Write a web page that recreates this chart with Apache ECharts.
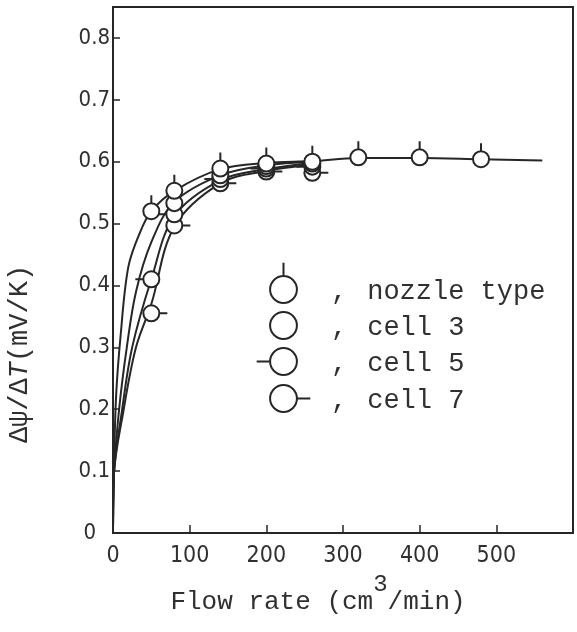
<!DOCTYPE html>
<html>
<head>
<meta charset="utf-8">
<script src="https://cdn.jsdelivr.net/npm/echarts@6/dist/echarts.min.js"></script>
<style>
html, body { margin: 0; padding: 0; background: #fff; }
#main { width: 577px; height: 632px; }
</style>
</head>
<body>
<div id="main"></div>
<script>
// data
var seriesNames = ["nozzle type", "cell 3", "cell 5", "cell 7"];
var xTicks = [0, 100, 200, 300, 400, 500];
var yTicks = [0, 0.1, 0.2, 0.3, 0.4, 0.5, 0.6, 0.7, 0.8];

// measured points (flow rate, d psi / dT)
var nozzleX = [50, 80, 140, 200, 260, 320, 400, 480];
var nozzleY = [0.520, 0.553, 0.589, 0.597, 0.600, 0.607, 0.607, 0.604];
var cell3X = [80, 140, 200, 260];
var cell3Y = [0.533, 0.578, 0.593, 0.597];
var cell5X = [50, 80, 140, 200, 260];
var cell5Y = [0.410, 0.515, 0.572, 0.589, 0.592];
var cell7X = [50, 80, 140, 200, 260];
var cell7Y = [0.355, 0.497, 0.565, 0.584, 0.582];

// hand drawn fitted curves
var nozzleCurveX = [0, 1, 4, 10, 20, 35, 50, 80, 140, 200, 260, 320, 400, 480, 560];
var nozzleCurveY = [0, 0.09, 0.22, 0.32, 0.43, 0.485, 0.52, 0.553, 0.588, 0.598, 0.601, 0.606, 0.606, 0.604, 0.602];
var cell3CurveX = [0, 1, 8, 18, 30, 50, 80, 140, 200, 260];
var cell3CurveY = [0, 0.09, 0.2, 0.3, 0.39, 0.47, 0.535, 0.578, 0.594, 0.600];
var cell5CurveX = [0, 1, 12, 25, 50, 80, 140, 200, 260];
var cell5CurveY = [0, 0.09, 0.2, 0.3, 0.41, 0.512, 0.570, 0.588, 0.598];
var cell7CurveX = [0, 1, 14, 30, 50, 80, 140, 200, 260];
var cell7CurveY = [0, 0.09, 0.2, 0.3, 0.37, 0.495, 0.565, 0.585, 0.595];

var ink = "#262626";
var textInk = "#303030";
var monoFont = "'Courier New', 'Liberation Mono', monospace";
var tickFont = "'Liberation Sans Narrow', 'DejaVu Sans Condensed', 'Liberation Sans', sans-serif";

// circle with a little stroke showing the series, in a fixed square box
var circ = "M-8,0A8,8,0,1,1,8,0A8,8,0,1,1,-8,0Z";
var box = "M-17,-17M17,17";
var symbols = [
    "path://" + box + circ + "M0,-8L0,-16",
    "path://" + box + circ,
    "path://" + box + circ + "M-8,0L-16,0",
    "path://" + box + circ + "M8,0L16,0"
];
var legendTops = [288, 324, 360, 397];

function zip(xs, ys) {
    return xs.map(function (x, i) { return [x, ys[i]]; });
}

var points = [zip(nozzleX, nozzleY), zip(cell3X, cell3Y), zip(cell5X, cell5Y), zip(cell7X, cell7Y)];
var curves = [zip(nozzleCurveX, nozzleCurveY), zip(cell3CurveX, cell3CurveY),
    zip(cell5CurveX, cell5CurveY), zip(cell7CurveX, cell7CurveY)];

var series = [];
curves.forEach(function (c, i) {
    series.push({
        name: seriesNames[i] + " curve",
        type: "line",
        data: c,
        smooth: 0.35,
        showSymbol: false,
        lineStyle: { color: ink, width: 2 },
        silent: true,
        z: 2
    });
});
// draw the lower ones first so the nozzle circles sit on top
[3, 2, 1, 0].forEach(function (i) {
    series.push({
        name: seriesNames[i],
        type: "scatter",
        data: points[i],
        symbol: symbols[i],
        symbolSize: 34,
        itemStyle: { color: "#fff", borderColor: ink, borderWidth: 2, opacity: 1 },
        z: 3 + (3 - i)
    });
});

var legends = seriesNames.map(function (n, i) {
    return {
        data: [{ name: n, icon: symbols[i] }],
        left: 254,
        top: legendTops[i] - 28,
        orient: "vertical",
        padding: 0,
        itemWidth: 57,
        itemHeight: 57,
        selectedMode: false,
        itemStyle: { color: "#fff", borderColor: ink, borderWidth: 2 },
        formatter: function (name) { return "{c|,}{t|" + name + "}"; },
        textStyle: {
            color: textInk,
            fontFamily: monoFont,
            fontSize: 27,
            rich: {
                c: { fontFamily: monoFont, fontSize: 27, color: textInk, padding: [4, 20, 0, 14] },
                t: { fontFamily: monoFont, fontSize: 27, color: textInk, padding: [4, 0, 0, 0] }
            }
        }
    };
});

var chart = echarts.init(document.getElementById("main"), null, { renderer: "canvas" });
chart.setOption({
    backgroundColor: "#fff",
    animation: false,
    grid: {
        left: 113, right: 4, top: 7, bottom: 99,
        show: true, borderColor: ink, borderWidth: 2,
        outerBoundsMode: "none"
    },
    legend: legends,
    xAxis: {
        type: "value",
        min: xTicks[0],
        max: 600,
        interval: 100,
        axisLine: { show: true, lineStyle: { color: ink, width: 2 } },
        axisTick: { show: true, inside: true, length: 8, lineStyle: { color: ink, width: 1.5 } },
        splitLine: { show: false },
        axisLabel: {
            showMaxLabel: false,
            margin: 12,
            color: textInk,
            fontSize: 23,
            fontFamily: tickFont,
            formatter: function (v) { return xTicks.indexOf(v) >= 0 ? String(v) : ""; }
        },
        name: "{n|Flow rate (cm}{s|3}{n|/min)}",
        nameLocation: "middle",
        nameGap: 38,
        nameTextStyle: {
            padding: [0, 50, 0, 0],
            rich: {
                n: { fontFamily: monoFont, fontSize: 26, color: textInk, lineHeight: 42, verticalAlign: "bottom" },
                s: { fontFamily: monoFont, fontSize: 24, color: textInk, lineHeight: 26, verticalAlign: "top" }
            }
        }
    },
    yAxis: {
        type: "value",
        min: yTicks[0],
        max: 0.85,
        interval: 0.1,
        axisLine: { show: true, lineStyle: { color: ink, width: 2 } },
        axisTick: { show: true, inside: true, length: 7, lineStyle: { color: ink, width: 1.5 } },
        splitLine: { show: false },
        axisLabel: {
            showMaxLabel: false,
            margin: 3,
            color: textInk,
            fontSize: 22,
            fontFamily: tickFont,
            formatter: function (v) {
                if (v === 0) return "{z|0}";
                return yTicks.indexOf(Math.round(v * 10) / 10) >= 0 ? v.toFixed(1) : "";
            },
            rich: { z: { fontSize: 22, fontFamily: tickFont, color: textInk, padding: [0, 14, 0, 0] } }
        },
        name: "Δψ/Δ{i|T}(mV/K)",
        nameLocation: "middle",
        nameRotate: 90,
        nameGap: 80,
        nameTextStyle: {
            fontFamily: monoFont,
            fontSize: 27,
            color: textInk,
            padding: [0, 168, 0, 0],
            rich: { i: { fontFamily: monoFont, fontSize: 27, color: textInk, fontStyle: "italic" } }
        }
    },
    series: series
});
</script>
</body>
</html>
